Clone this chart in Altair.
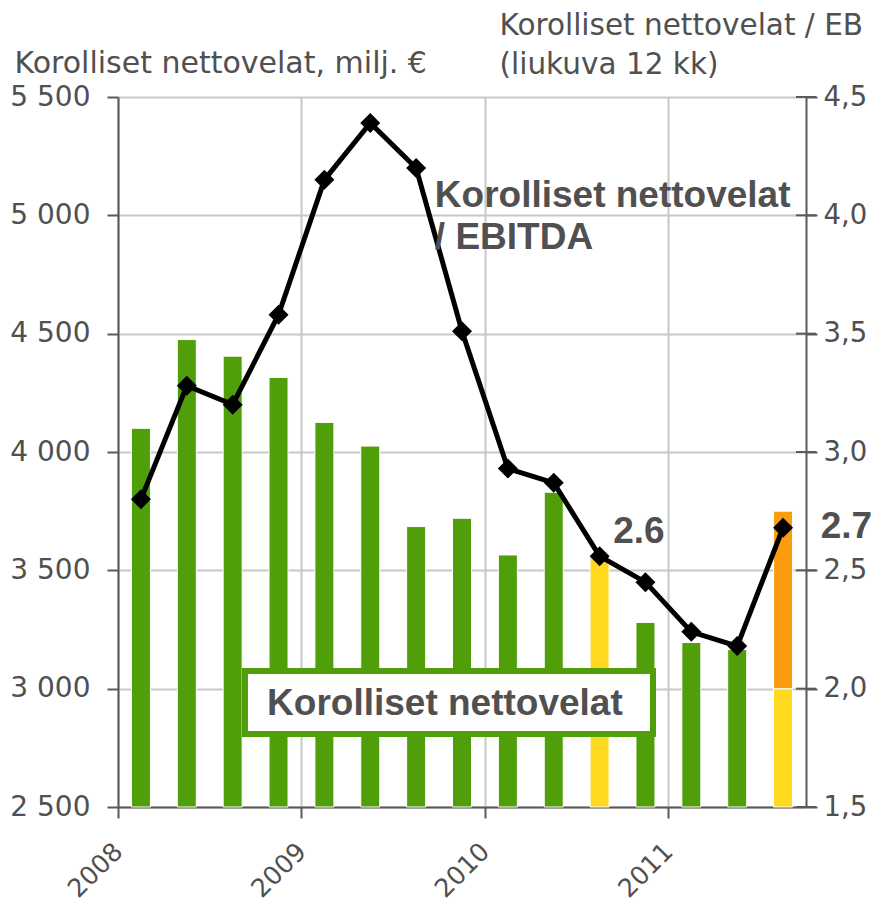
import altair as alt
import pandas as pd

# ---- data ----
quarter_pos = [2008.125, 2008.375, 2008.625, 2008.875,
               2009.125, 2009.375, 2009.625, 2009.875,
               2010.125, 2010.375, 2010.625, 2010.875,
               2011.125, 2011.375, 2011.625]
net_debt = [4100, 4475, 4405, 4315, 4125, 4025, 3685, 3720,
            3565, 3830, 3560, 3280, 3195, 3165, 3750]
bar_kind = ["base", "base", "base", "base", "base", "base", "base", "base",
            "base", "base", "highlight", "base", "base", "base", "split"]
split_level = 3000
ratio = [2.80, 3.28, 3.20, 3.58, 4.15, 4.39, 4.20, 3.51,
         2.93, 2.87, 2.56, 2.45, 2.24, 2.18, 2.68]
year_ticks = [2008, 2009, 2010, 2011]
left_ticks = [2500, 3000, 3500, 4000, 4500, 5000, 5500]
right_ticks = [1.5, 2.0, 2.5, 3.0, 3.5, 4.0, 4.5]
x_domain = [2008, 2011.75]

GREEN = "#519E0B"
YELLOW = "#FFD920"
ORANGE = "#F99D0F"
TEXT = "#505050"
AXIS = "#595959"
GRID = "#C8C8C8"
BASE = 2500

rows = []
for x, v, k in zip(quarter_pos, net_debt, bar_kind):
    if k == "split":
        rows.append({"x": x, "y0": BASE, "y": split_level, "kind": "highlight"})
        rows.append({"x": x, "y0": split_level, "y": v, "kind": "extra"})
    else:
        rows.append({"x": x, "y0": BASE, "y": v, "kind": k})
bars_df = pd.DataFrame(rows)
line_df = pd.DataFrame({"x": quarter_pos, "y": ratio})
rtick_df = pd.DataFrame({"x": [x_domain[1]] * len(right_ticks), "y": right_ticks})

xscale = alt.Scale(domain=x_domain, nice=False, zero=False, padding=0)
yl = alt.Scale(domain=[2500, 5500], nice=False, zero=False, padding=0)
yr = alt.Scale(domain=[1.5, 4.5], nice=False, zero=False, padding=0)

x_axis = alt.Axis(values=year_ticks, format="d", labelAngle=-45, labelAlign="right",
                  labelBaseline="middle", labelPadding=29, labelFlush=False,
                  labelOverlap=False, labelFont="DejaVu Sans", labelFontSize=25.5,
                  labelColor=TEXT, tickSize=11, tickWidth=2, tickColor=AXIS,
                  domainColor=AXIS, domainWidth=2, grid=True, gridColor=GRID,
                  gridWidth=2, title="")

left_axis = alt.Axis(values=left_ticks, labelExpr="replace(format(datum.value, ','), ',', ' ')",
                     labelFont="DejaVu Sans", labelFontSize=28, labelColor=TEXT,
                     labelPadding=17, tickSize=11, tickWidth=2, tickColor=AXIS,
                     domainColor=AXIS, domainWidth=2, grid=True, gridColor=GRID, gridWidth=2,
                     title="Korolliset nettovelat, milj. €", titleAngle=0, titleX=-104,
                     titleY=-25, titleAlign="left", titleBaseline="alphabetic",
                     titleFont="DejaVu Sans", titleFontSize=30, titleFontWeight="normal",
                     titleColor=TEXT)

right_axis = alt.Axis(orient="right", values=right_ticks,
                      labelExpr="replace(format(datum.value, '.1f'), '.', ',')",
                      labelFont="DejaVu Sans", labelFontSize=27.5, labelColor=TEXT,
                      labelPadding=6, tickSize=11, tickWidth=2, tickColor=AXIS,
                      domainColor=AXIS, domainWidth=2, grid=False,
                      title=["Korolliset nettovelat / EB", "(liukuva 12 kk)"],
                      titleAngle=0, titleX=-307, titleY=-63, titleAlign="left",
                      titleBaseline="alphabetic", titleLineHeight=39,
                      titleFont="DejaVu Sans", titleFontSize=29.5, titleFontWeight="normal",
                      titleColor=TEXT)

X = alt.X("x:Q", scale=xscale, axis=x_axis)
YL = alt.Y("y:Q", scale=yl, axis=left_axis)
YR = alt.Y("y:Q", scale=yr, axis=right_axis)

bars = alt.Chart(bars_df).mark_bar(size=19, stroke="white", strokeWidth=1).encode(
    x=X, y=YL, y2="y0:Q",
    color=alt.Color("kind:N", scale=alt.Scale(domain=["base", "highlight", "extra"],
                                               range=[GREEN, YELLOW, ORANGE]), legend=None),
)

box_df = pd.DataFrame({"x": [2008.692], "x2": [2010.916], "y": [3074.6], "y2": [2808.5]})
box = alt.Chart(box_df).mark_rect(fill="white", stroke=GREEN, strokeWidth=6).encode(
    x=X, x2="x2:Q", y=YL, y2="y2:Q")

boxtext_df = pd.DataFrame({"x": [2009.782], "y": [2888.7], "t": ["Korolliset nettovelat"]})
boxtext = alt.Chart(boxtext_df).mark_text(font="Liberation Sans", fontWeight="bold",
                                          fontSize=37, color=TEXT, align="center",
                                          baseline="alphabetic").encode(
    x=X, y=YL, text="t:N")

left_group = alt.layer(bars, box, boxtext)

rticks = alt.Chart(rtick_df).mark_tick(orient="horizontal", size=20, thickness=2,
                                       color=AXIS, opacity=1).encode(x=X, y=YR)

line = alt.Chart(line_df).mark_line(color="black", strokeWidth=5).encode(x=X, y=YR)
pts = alt.Chart(line_df).mark_point(shape="diamond", filled=True, size=400,
                                    color="black", opacity=1).encode(x=X, y=YR)

ann_df = pd.DataFrame({"x": [2009.727], "y": [4.036],
                       "t": [["Korolliset nettovelat", "/ EBITDA"]]})
ann = alt.Chart(ann_df).mark_text(font="Liberation Sans", fontWeight="bold", fontSize=37,
                                  color=TEXT, align="left", baseline="alphabetic",
                                  lineHeight=42).encode(x=X, y=YR, text="t")

val_df = pd.DataFrame({"x": [2010.839, 2011.97], "y": [2.615, 2.637], "t": ["2.6", "2.7"]})
vals = alt.Chart(val_df).mark_text(font="Liberation Sans", fontWeight="bold", fontSize=37,
                                   color=TEXT, align="center", baseline="alphabetic").encode(
    x=X, y=YR, text="t:N")

right_group = alt.layer(rticks, line, pts, ann, vals)

chart = alt.layer(left_group, right_group).resolve_scale(y="independent").properties(
    width=688, height=710,
    autosize=alt.AutoSizeParams(type="none"),
    padding={"left": 110, "top": 89, "right": 65, "bottom": 96},
).configure_view(stroke=None)

chart.save("out.html", embed_options={"renderer": "svg", "actions": False})
